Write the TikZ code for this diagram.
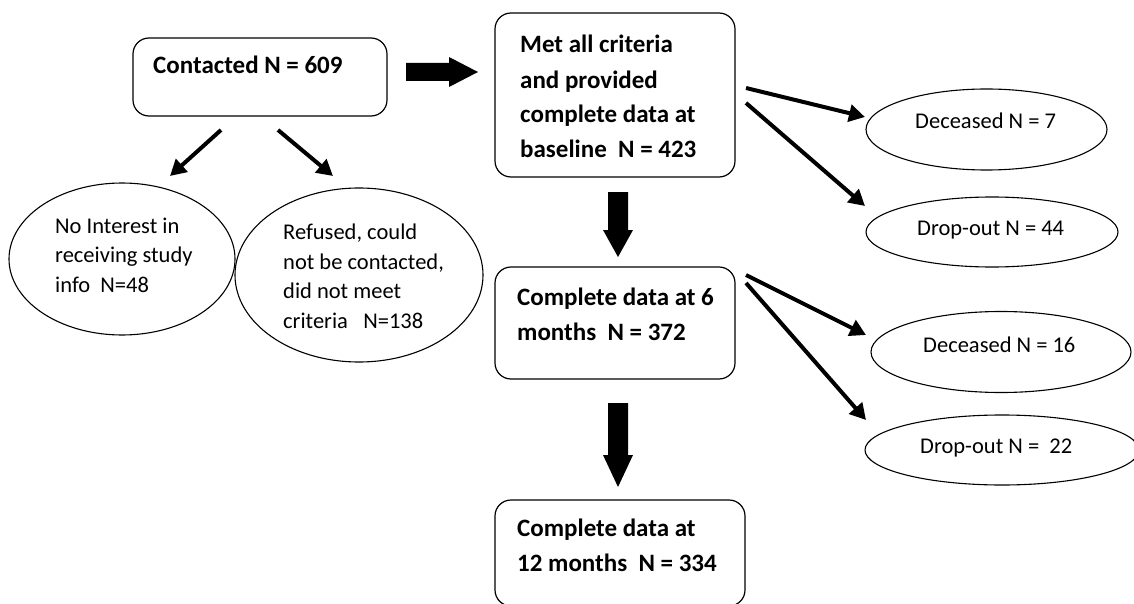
\documentclass[tikz,border=0pt]{standalone}
\usepackage{fontspec}
\setmainfont{Carlito}
\usetikzlibrary{shapes.geometric,arrows.meta}
\begin{document}
\begin{tikzpicture}[x=1pt,y=-1pt,
  box/.style={draw, line width=1.2pt, rounded corners=16pt, inner sep=0pt},
  oval/.style={draw, ellipse, line width=1.1pt, inner sep=0pt},
  btext/.style={font=\fontsize{25}{35}\selectfont\bfseries, align=left, anchor=base west, inner sep=0pt},
  rtext/.style={font=\fontsize{22.5}{29.5}\selectfont, align=left, anchor=base west, inner sep=0pt},
  thinarr/.style={line width=4pt, -{Triangle[length=16pt,width=17pt]}},
  blockarr/.style={fill=black, draw=none}]
\useasboundingbox (0,0) rectangle (1134,604);
\clip (0,0) rectangle (1134,604);

% boxes
\node[box, minimum width=254pt, minimum height=78pt] (contacted) at (260,77) {};
\node[box, minimum width=240pt, minimum height=164pt] (met) at (615,95) {};
\node[box, minimum width=240pt, minimum height=112pt] (six) at (615,323) {};
\node[box, minimum width=250pt, minimum height=106pt] (twelve) at (620,553) {};

% ellipses
\node[oval, minimum width=226pt, minimum height=152pt] (noint) at (122,259) {};
\node[oval, minimum width=248pt, minimum height=174pt] (refused) at (359,275) {};
\node[oval, minimum width=241pt, minimum height=81pt] (dec7) at (986.5,129.5) {};
\node[oval, minimum width=252pt, minimum height=70pt] (drop44) at (992,232) {};
\node[oval, minimum width=260pt, minimum height=81pt] (dec16) at (1001,352) {};
\node[oval, minimum width=274pt, minimum height=70pt] (drop22) at (1002,450) {};

% texts (anchored at the baseline of their last line)
\node[btext] (tcontacted) at (153,74) {Contacted N = 609};
\node[btext] (tmet) at (520,158) {Met all criteria\\and provided\\complete data at\\baseline\ \ N = 423};
\node[btext] (tsix) at (517,340) {Complete data at 6\\months\ \ N = 372};
\node[btext] (ttwelve) at (517,571) {Complete data at\\12 months\ \ N = 334};
\node[rtext] (tnoint) at (55,292) {No Interest in\\receiving study\\info\ \ N=48};
\node[rtext] (trefused) at (283,328) {Refused, could\\not be contacted,\\did not meet\\criteria\ \ \ N=138};
\node[rtext] (tdec7) at (915,129) {Deceased N = 7};
\node[rtext] (tdrop44) at (917,235) {Drop-out N = 44};
\node[rtext] (tdec16) at (923,352) {Deceased N = 16};
\node[rtext] (tdrop22) at (920,453) {Drop-out N =\ \ 22};

% connector end points
\coordinate (c1a) at (221,130); \coordinate (c1b) at (170,176);
\coordinate (c2a) at (278,130); \coordinate (c2b) at (333,176);
\coordinate (m1a) at (746,88);  \coordinate (m1b) at (865,117);
\coordinate (m2a) at (746,103); \coordinate (m2b) at (865,206);
\coordinate (s1a) at (746,275); \coordinate (s1b) at (866,335);
\coordinate (s2a) at (746,283); \coordinate (s2b) at (866,420);

\draw[thinarr] (c1a) -- (c1b);
\draw[thinarr] (c2a) -- (c2b);
\draw[thinarr] (m1a) -- (m1b);
\draw[thinarr] (m2a) -- (m2b);
\draw[thinarr] (s1a) -- (s1b);
\draw[thinarr] (s2a) -- (s2b);

% block arrows
\coordinate (r0) at (406,72);
\fill[blockarr] (r0) ++(0,-9) -- ++(43,0) -- ++(0,-6) -- (478,72) -- (449,87) -- (449,81) -- (406,81) -- cycle;
\coordinate (d1) at (618,192);
\fill[blockarr] (d1) ++(-10,0) -- ++(20,0) -- ++(0,38) -- ++(5,0) -- (618,257) -- (603,230) -- (608,230) -- cycle;
\coordinate (d2) at (618,403);
\fill[blockarr] (d2) ++(-10,0) -- ++(20,0) -- ++(0,52) -- ++(5,0) -- (618,487) -- (603,455) -- (608,455) -- cycle;
\end{tikzpicture}
\end{document}
